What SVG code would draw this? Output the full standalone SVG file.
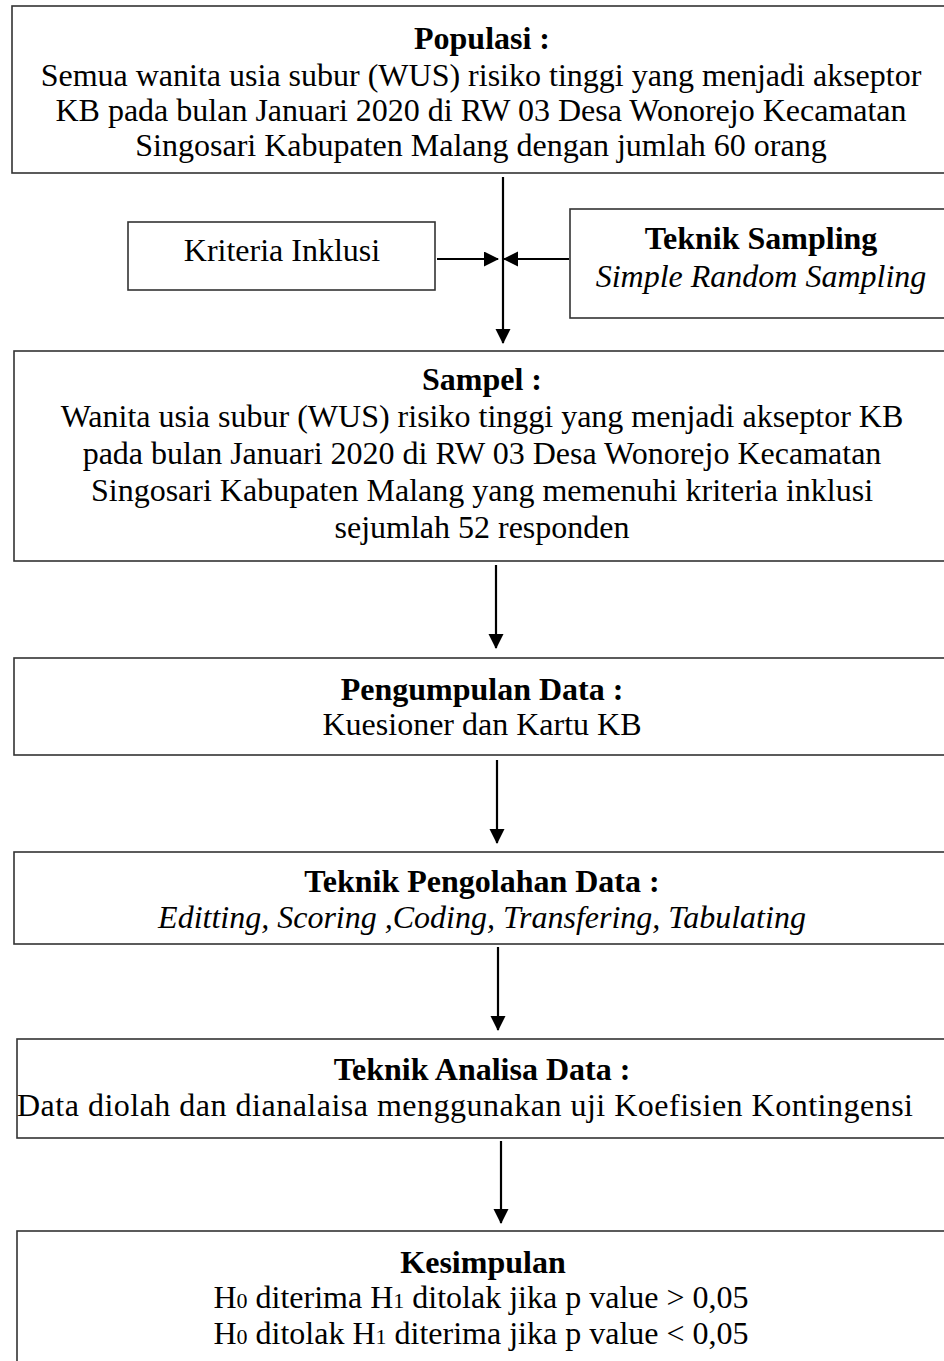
<svg xmlns="http://www.w3.org/2000/svg" width="944" height="1361" viewBox="0 0 944 1361">
<style>
.box{fill:#fff;stroke:#333;stroke-width:1.6}
.t{font-family:"Liberation Serif","Times New Roman",serif;font-size:32px;fill:#000;text-anchor:middle}
.b{font-weight:bold}
.i{font-style:italic}
.s{font-size:22px}
.conn{stroke:#000;stroke-width:2.2;fill:none}
</style>
<defs>
<marker id="ah" markerUnits="userSpaceOnUse" markerWidth="16" markerHeight="16" refX="14" refY="7.5" orient="auto">
<path d="M0,0 L15,7.5 L0,15 z" fill="#000"/>
</marker>
</defs>
<rect x="0" y="0" width="944" height="1361" fill="#fff"/>
<g id="populasi">
<rect class="box" x="12" y="6" width="960" height="167"/>
<text class="t b" x="482" y="49">Populasi :</text>
<text class="t" x="481" y="86">Semua wanita usia subur (WUS) risiko tinggi yang menjadi akseptor</text>
<text class="t" x="481" y="121">KB pada bulan Januari 2020 di RW 03 Desa Wonorejo Kecamatan</text>
<text class="t" x="481" y="156">Singosari Kabupaten Malang dengan jumlah 60 orang</text>
</g>
<g id="kriteria">
<rect class="box" x="128" y="222" width="307" height="68"/>
<text class="t" x="282" y="261">Kriteria Inklusi</text>
</g>
<g id="teknik-sampling">
<rect class="box" x="570" y="209" width="400" height="109"/>
<text class="t b" x="761" y="249">Teknik Sampling</text>
<text class="t i" x="761" y="287">Simple Random Sampling</text>
</g>
<g id="sampel">
<rect class="box" x="14" y="351" width="960" height="210"/>
<text class="t b" x="482" y="390">Sampel :</text>
<text class="t" x="482" y="427">Wanita usia subur (WUS) risiko tinggi yang menjadi akseptor KB</text>
<text class="t" x="482" y="464">pada bulan Januari 2020 di RW 03 Desa Wonorejo Kecamatan</text>
<text class="t" x="482" y="501">Singosari Kabupaten Malang yang memenuhi kriteria inklusi</text>
<text class="t" x="482" y="538">sejumlah 52 responden</text>
</g>
<g id="pengumpulan">
<rect class="box" x="14" y="658" width="960" height="97"/>
<text class="t b" x="482" y="700">Pengumpulan Data :</text>
<text class="t" x="482" y="735">Kuesioner dan Kartu KB</text>
</g>
<g id="pengolahan">
<rect class="box" x="14" y="852" width="960" height="92"/>
<text class="t b" x="482" y="892">Teknik Pengolahan Data :</text>
<text class="t i" x="482" y="928">Editting, Scoring ,Coding, Transfering, Tabulating</text>
</g>
<g id="analisa">
<rect class="box" x="17" y="1039" width="960" height="99"/>
<text class="t b" x="482" y="1080">Teknik Analisa Data :</text>
<text class="t" x="465" y="1116" textLength="896" lengthAdjust="spacing">Data diolah dan dianalaisa menggunakan uji Koefisien Kontingensi</text>
</g>
<g id="kesimpulan">
<rect class="box" x="17" y="1231" width="960" height="160"/>
<text class="t b" x="483" y="1273">Kesimpulan</text>
<text class="t" x="481" y="1308">H<tspan class="s">0</tspan> diterima H<tspan class="s">1</tspan> ditolak jika p value &gt; 0,05</text>
<text class="t" x="481" y="1344">H<tspan class="s">0</tspan> ditolak H<tspan class="s">1</tspan> diterima jika p value &lt; 0,05</text>
</g>
<g id="connectors">
<line class="conn" x1="503" y1="177" x2="503" y2="343" marker-end="url(#ah)"/>
<line class="conn" x1="437" y1="259" x2="498" y2="259" marker-end="url(#ah)"/>
<line class="conn" x1="569" y1="259" x2="504" y2="259" marker-end="url(#ah)"/>
<line class="conn" x1="496" y1="565" x2="496" y2="648" marker-end="url(#ah)"/>
<line class="conn" x1="497" y1="760" x2="497" y2="843" marker-end="url(#ah)"/>
<line class="conn" x1="498" y1="947" x2="498" y2="1030" marker-end="url(#ah)"/>
<line class="conn" x1="501" y1="1141" x2="501" y2="1223" marker-end="url(#ah)"/>
</g>
</svg>
